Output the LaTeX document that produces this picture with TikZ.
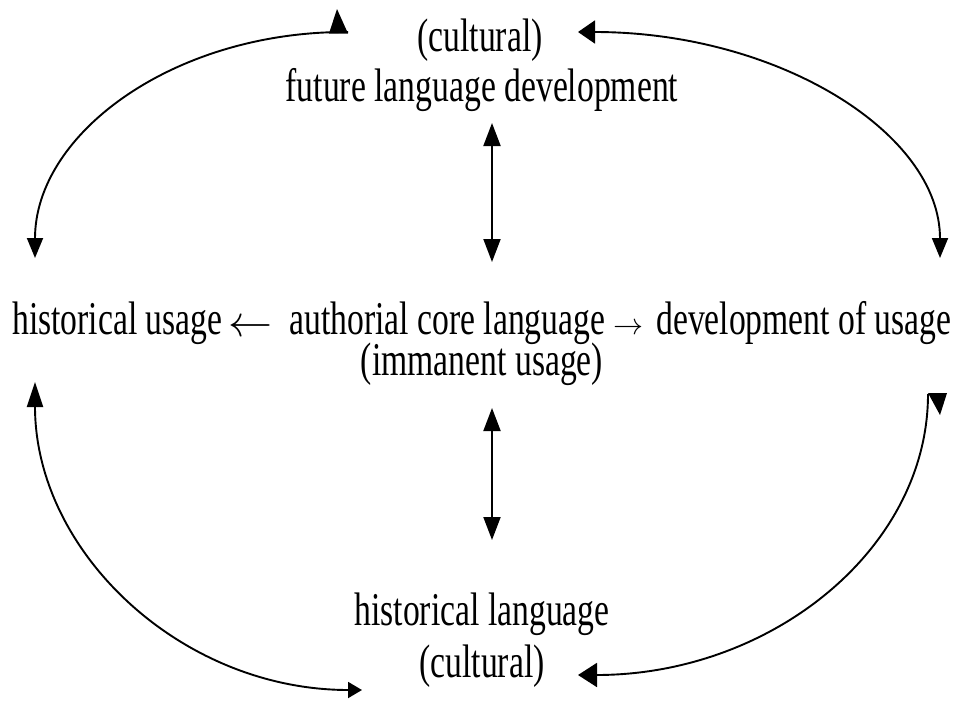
\documentclass[tikz,border=0pt]{standalone}
\usepackage{fontspec}
\newfontfamily\tnr[FakeStretch=0.716]{Liberation Serif}
\usetikzlibrary{arrows.meta}
\newcommand{\larr}{\raisebox{-2pt}{\resizebox{44pt}{!}{$\leftarrow$}}}
\newcommand{\rarr}{\resizebox{30pt}{!}{$\rightarrow$}}
\begin{document}
\begin{tikzpicture}[x=1pt,y=-1pt,
  lbl/.style={anchor=base,inner sep=0pt,font=\tnr\fontsize{47}{47}\selectfont},
  conn/.style={line width=1.9pt},
]
\useasboundingbox (0,0) rectangle (958,704);
% texts
\node[lbl] (topc) at (480,51) {(cultural)};
\node[lbl] (future) at (482,101) {future language development};
\node[lbl,anchor=base west,text depth=0pt] (main) at (12,334) {historical usage\hspace{6pt}\larr\hspace{17pt}authorial core language\hspace{8pt}\rarr\hspace{13pt}development of usage};
\node[lbl,text height=24pt] (imm) at (482,375) {(immanent usage)};
\node[lbl] (hist) at (482,625) {historical language};
\node[lbl] (botc) at (482,677) {(cultural)};
% connector end points
\coordinate (tlA) at (348,32);
\coordinate (tlB) at (35,258);
\coordinate (trA) at (578,32);
\coordinate (trB) at (940,258);
\coordinate (blA) at (35,382);
\coordinate (blB) at (362,690);
\coordinate (brA) at (928,394);
\coordinate (brB) at (578,675);
\coordinate (v1a) at (492,123);
\coordinate (v1b) at (492,262);
\coordinate (v2a) at (492,408);
\coordinate (v2b) at (492,540);
% top-left arc
\draw[conn,-{Triangle[length=20pt,width=16pt]}] (tlA) .. controls (175,31) and (35,133) .. (tlB);
\fill (329,33.5) -- (348,33.5) -- (337,9) -- cycle;
% top-right arc
\draw[conn,{Triangle[length=17pt,width=23pt]}-{Triangle[length=20pt,width=16pt]}] (trA) .. controls (778,32) and (940,133) .. (trB);
% bottom-left arc
\draw[conn,{Triangle[length=25pt,width=16pt]}-{Triangle[length=14pt,width=16pt]}] (blA) .. controls (35,552) and (181,690) .. (blB);
% bottom-right arc
\draw[conn,-{Triangle[length=19pt,width=24pt]}] (brA) .. controls (928,549) and (771,675) .. (brB);
\fill (928,393) -- (947,393) -- (940,415) -- cycle;
% vertical arrows
\draw[conn,{Triangle[length=23pt,width=17pt]}-{Triangle[length=23pt,width=17pt]}] (v1a) -- (v1b);
\draw[conn,{Triangle[length=23pt,width=17pt]}-{Triangle[length=23pt,width=17pt]}] (v2a) -- (v2b);
\end{tikzpicture}
\end{document}
